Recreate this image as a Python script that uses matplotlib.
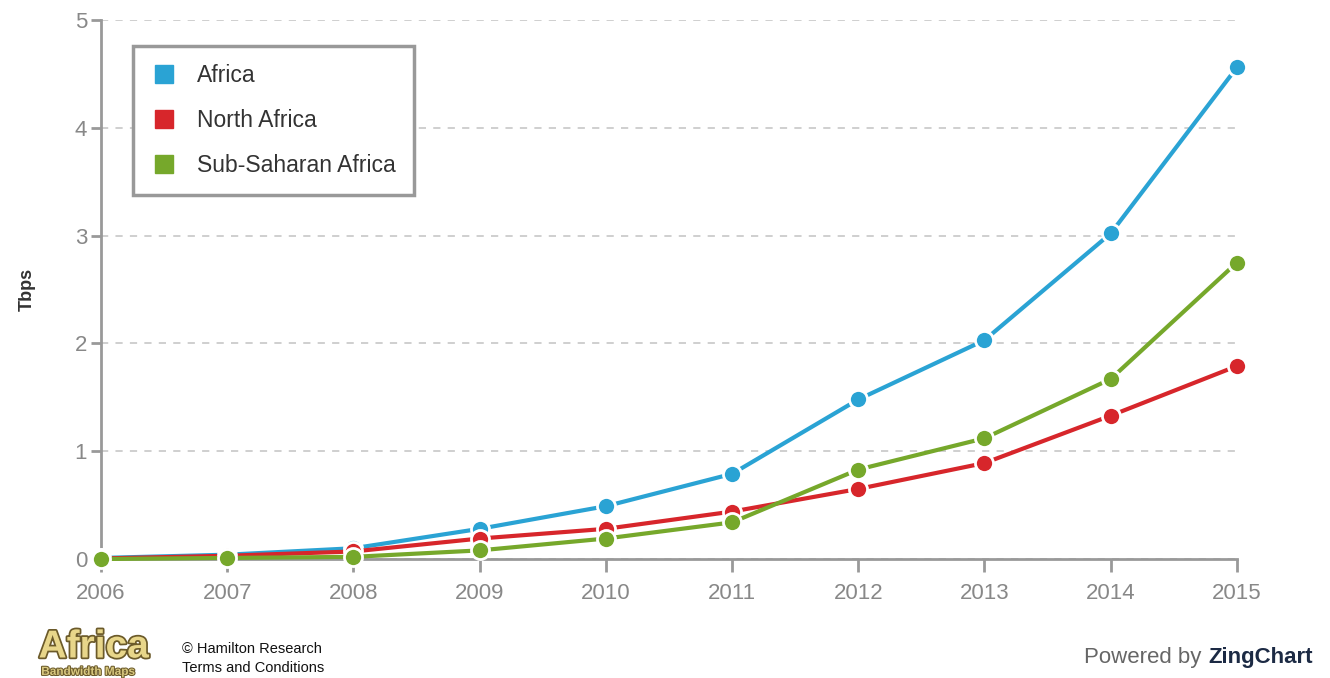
import matplotlib.pyplot as plt
import matplotlib.patheffects as pe
from matplotlib.lines import Line2D

years = [2006, 2007, 2008, 2009, 2010, 2011, 2012, 2013, 2014, 2015]
africa = [0.01, 0.04, 0.10, 0.28, 0.49, 0.79, 1.48, 2.03, 3.02, 4.56]
north_africa = [0.005, 0.03, 0.07, 0.19, 0.28, 0.44, 0.65, 0.89, 1.33, 1.79]
sub_saharan = [0.0, 0.01, 0.02, 0.08, 0.19, 0.34, 0.83, 1.12, 1.67, 2.75]

series_names = ["Africa", "North Africa", "Sub-Saharan Africa"]
colors = ["#2aa3d4", "#d7262b", "#76a82b"]

plt.rcParams['font.family'] = ['Liberation Sans', 'DejaVu Sans']

fig = plt.figure(figsize=(13.3, 6.78), dpi=100)
ax = fig.add_axes([0.076, 0.1755, 0.854, 0.795])

for vals, col in zip([africa, north_africa, sub_saharan], colors):
    ax.plot(years, vals, color=col, lw=3, marker='o', markersize=13,
            markerfacecolor=col, markeredgecolor='white', markeredgewidth=2,
            clip_on=False, zorder=3)

ax.set_xlim(2006, 2015)
ax.set_ylim(0, 5)
ax.set_xticks(years)
ax.set_yticks([0, 1, 2, 3, 4, 5])
ax.grid(axis='y', color='#cccccc', linestyle=(0, (4, 4)), lw=1.3)
ax.set_axisbelow(True)

for s in ['top', 'right']:
    ax.spines[s].set_visible(False)
for s in ['left', 'bottom']:
    ax.spines[s].set_color('#999999')
    ax.spines[s].set_linewidth(2)
ax.tick_params(axis='both', colors='#999999', labelcolor='#888888',
               labelsize=16, width=2)
ax.tick_params(axis='x', length=9, pad=8)
ax.tick_params(axis='y', length=7, pad=3)

ax.set_ylabel("Tbps", fontsize=13, fontweight='bold', color='#333333',
              labelpad=28)

handles = [Line2D([], [], linestyle='none', marker='s', markersize=13,
                  markerfacecolor=c, markeredgecolor=c) for c in colors]
leg = ax.legend(handles, series_names, loc='upper left',
                bbox_to_anchor=(0.028, 0.952), borderaxespad=0,
                fontsize=16.5, labelspacing=0.95, borderpad=0.8,
                handletextpad=0.9, handlelength=1.1, fancybox=False,
                framealpha=1, edgecolor='#999999')
leg.get_frame().set_linewidth(2.5)
for t in leg.get_texts():
    t.set_color('#333333')

# footer
zing = fig.text(0.987, 0.03, "ZingChart", ha='right', va='center',
                fontsize=16, color='#1c2a44', fontweight='bold')
ax.annotate("Powered by", xy=(0, 0.5), xycoords=zing,
            xytext=(-5, 0), textcoords='offset points',
            ha='right', va='center', fontsize=16, color='#666666',
            annotation_clip=False)

fig.text(0.029, 0.045, "Africa", ha='left', va='center', fontsize=28,
         fontweight='bold', color='#e8d68a',
         path_effects=[pe.withStroke(linewidth=2.5, foreground='#6b5a2a')])
fig.text(0.031, 0.009, "Bandwidth Maps", ha='left', va='center', fontsize=8.5,
         fontweight='bold', color='#d8c880',
         path_effects=[pe.withStroke(linewidth=1.5, foreground='#6b5a2a')])
fig.text(0.137, 0.043, "\u00a9 Hamilton Research", ha='left', va='center',
         fontsize=10.5, color='#111111')
fig.text(0.137, 0.015, "Terms and Conditions", ha='left', va='center',
         fontsize=10.5, color='#111111')

fig.savefig("out.png", dpi=100)
